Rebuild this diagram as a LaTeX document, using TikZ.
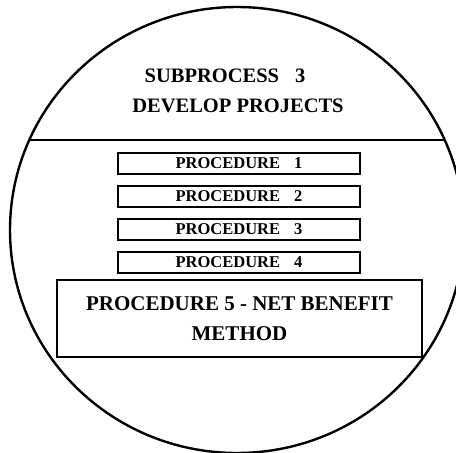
\documentclass[tikz,border=0pt]{standalone}
\usepackage{fontspec}
\setmainfont{Liberation Serif}
\usetikzlibrary{positioning}

\begin{document}
\begin{tikzpicture}[
  x=1pt, y=-1pt,
  title/.style={font=\bfseries\fontsize{20.5}{24}\selectfont, inner sep=0pt},
  proc/.style={draw, line width=2pt, minimum width=242pt, minimum height=21pt, inner sep=0pt,
    font=\bfseries\fontsize{16.5}{18}\selectfont},
  bigproc/.style={draw, line width=2pt, minimum width=365pt, minimum height=77pt, align=center,
    font=\bfseries\fontsize{21}{30}\selectfont},
  node distance=10pt
]
\useasboundingbox (0,0) rectangle (456,453);
% process circle and divider
\draw[line width=2.4pt] (237,230) ellipse [x radius=227, y radius=223];
\coordinate (divl) at (29.3,140);
\coordinate (divr) at (444.7,140);
\draw[line width=2pt] (divl) -- (divr);
% heading
\node[title] (sub) at (225,76) {SUBPROCESS\hspace{16pt}3};
\node[title] (dev) at (238,106) {DEVELOP PROJECTS};
% procedures
\node[proc] (p1) at (239,163) {PROCEDURE\hspace{14pt}1};
\node[proc, below=of p1] (p2) {PROCEDURE\hspace{14pt}2};
\node[proc, below=of p2] (p3) {PROCEDURE\hspace{14pt}3};
\node[proc, below=of p3] (p4) {PROCEDURE\hspace{14pt}4};
\node[bigproc] (p5) at (239.5,318.5) {PROCEDURE 5 - NET BENEFIT\\METHOD};
\end{tikzpicture}
\end{document}
